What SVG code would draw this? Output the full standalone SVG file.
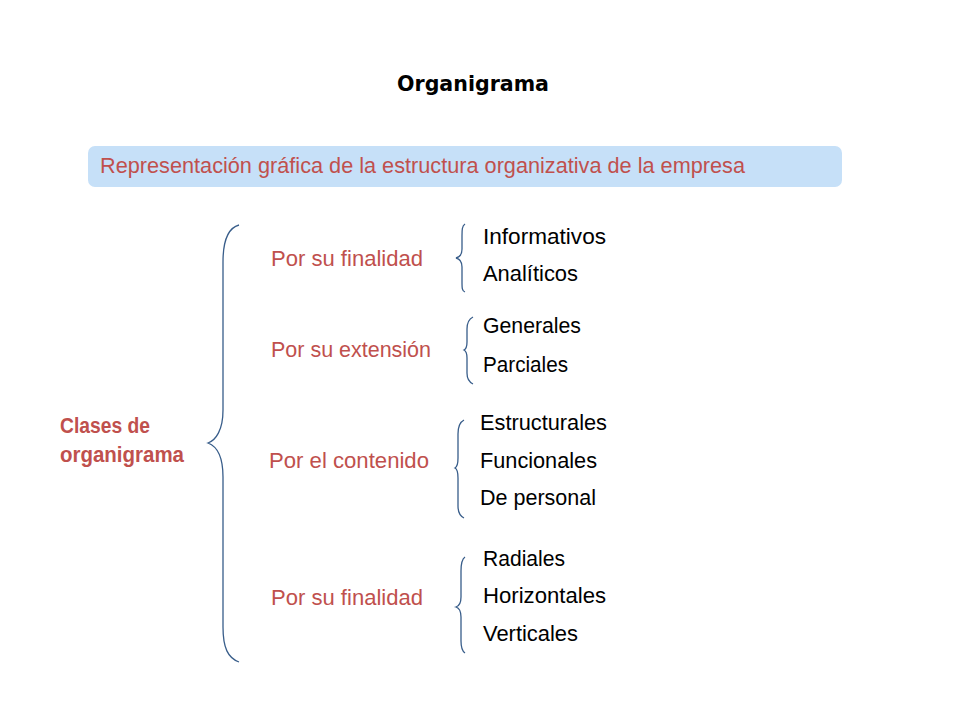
<svg xmlns="http://www.w3.org/2000/svg" width="960" height="720" viewBox="0 0 960 720">
<style>
.t{font-family:"Liberation Sans",Arial,sans-serif;font-size:22px;fill:#000}
.r{fill:#C0504D}
.b{font-weight:bold}
.br{fill:none;stroke:#385D8A;stroke-width:1.3}
</style>
<rect width="960" height="720" fill="#fff"/>
<g id="title"><text x="397" y="91" style="font-family:'DejaVu Sans',Verdana,sans-serif;font-weight:bold;font-size:20.5px" textLength="152" lengthAdjust="spacingAndGlyphs">Organigrama</text></g>
<g id="banner">
<rect x="88" y="146" width="754" height="41" rx="7" fill="#C6E0F8"/>
<text class="t r" x="100" y="173" textLength="645" lengthAdjust="spacingAndGlyphs">Representación gráfica de la estructura organizativa de la empresa</text>
</g>
<g id="root">
<text class="t r b" x="60" y="433" textLength="90" lengthAdjust="spacingAndGlyphs">Clases de</text>
<text class="t r b" x="60" y="462" textLength="124" lengthAdjust="spacingAndGlyphs">organigrama</text>
</g>
<g id="connectors">
<path class="br" d="M239,225 C228,228 223,240 223,262 L223,410 C223,430 216,440 208,443 C216,446 223,456 223,477 L223,627 C223,648 228,658 239,662"/>
<path class="br" d="M465,224 C462,226 462,230 462,236 L462,249 C462,255 460,257 456,258 C460,259 462,261 462,267 L462,282 C462,288 462,291 465,292"/>
<path class="br" d="M473,317 C469,319 467,323 467,329 L467,342 C467,347 466,349 464,350 C466,351 467,353 467,358 L467,373 C467,379 469,382 473,384"/>
<path class="br" d="M464,420 C460,422 458,427 458,434 L458,458 C458,465 457,467 455,468 C457,469 458,471 458,478 L458,506 C458,513 460,516 464,518"/>
<path class="br" d="M465,557 C462,559 461,564 461,571 L461,597 C461,604 459,606 456,607 C459,608 461,610 461,617 L461,641 C461,648 462,651 465,653"/>
</g>
<g id="n1">
<text class="t r" x="271" y="266" textLength="152" lengthAdjust="spacingAndGlyphs">Por su finalidad</text>
<text class="t" x="483" y="244" textLength="123" lengthAdjust="spacingAndGlyphs">Informativos</text>
<text class="t" x="483" y="281" textLength="95" lengthAdjust="spacingAndGlyphs">Analíticos</text>
</g>
<g id="n2">
<text class="t r" x="271" y="357" textLength="160" lengthAdjust="spacingAndGlyphs">Por su extensión</text>
<text class="t" x="483" y="333" textLength="98" lengthAdjust="spacingAndGlyphs">Generales</text>
<text class="t" x="483" y="372" textLength="85" lengthAdjust="spacingAndGlyphs">Parciales</text>
</g>
<g id="n3">
<text class="t r" x="269" y="468" textLength="160" lengthAdjust="spacingAndGlyphs">Por el contenido</text>
<text class="t" x="480" y="430" textLength="127" lengthAdjust="spacingAndGlyphs">Estructurales</text>
<text class="t" x="480" y="468" textLength="117" lengthAdjust="spacingAndGlyphs">Funcionales</text>
<text class="t" x="480" y="505" textLength="116" lengthAdjust="spacingAndGlyphs">De personal</text>
</g>
<g id="n4">
<text class="t r" x="271" y="605" textLength="152" lengthAdjust="spacingAndGlyphs">Por su finalidad</text>
<text class="t" x="483" y="566" textLength="82" lengthAdjust="spacingAndGlyphs">Radiales</text>
<text class="t" x="483" y="603" textLength="123" lengthAdjust="spacingAndGlyphs">Horizontales</text>
<text class="t" x="483" y="641" textLength="95" lengthAdjust="spacingAndGlyphs">Verticales</text>
</g>
</svg>
